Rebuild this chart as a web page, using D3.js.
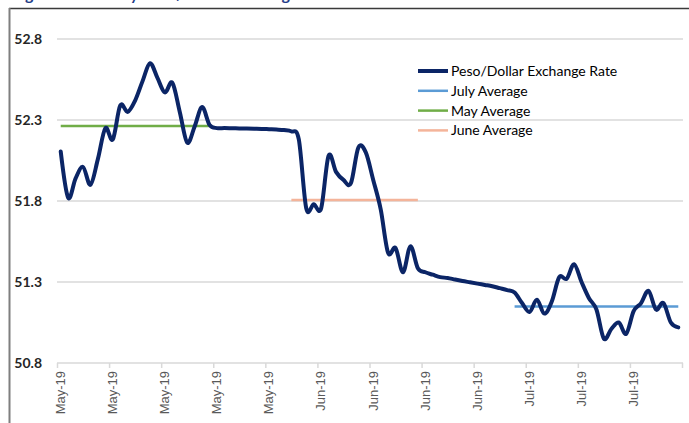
<!DOCTYPE html>
<html>
<head>
<meta charset="utf-8">
<script src="https://cdn.jsdelivr.net/npm/d3@7"></script>
<style>
  html, body { margin: 0; padding: 0; background: #fff; }
  svg { display: block; }
</style>
</head>
<body>
<div id="chart"></div>
<script>
// Daily peso/dollar observations, May to July 2019 (one value per slot on the axis)
const rateValues = [
  52.105, 51.82, 51.94, 52.01, 51.90, 52.06, 52.25, 52.18, 52.39, 52.35,
  52.42, 52.54, 52.65, 52.56, 52.47, 52.53, 52.35, 52.16, 52.26, 52.38,
  52.27, 52.25, 52.25, 52.249, 52.248, 52.247, 52.246, 52.245, 52.243, 52.241,
  52.238, 52.23, 52.18, 51.755, 51.78, 51.755, 52.08, 51.98, 51.93, 51.91,
  52.13, 52.10, 51.93, 51.75, 51.48, 51.51, 51.36, 51.52, 51.385, 51.36,
  51.345, 51.33, 51.325, 51.315, 51.306, 51.298, 51.29, 51.282, 51.274, 51.262,
  51.25, 51.235, 51.17, 51.115, 51.19, 51.105, 51.18, 51.33, 51.32, 51.41,
  51.30, 51.20, 51.13, 50.95, 51.01, 51.05, 50.98, 51.12, 51.17, 51.245,
  51.13, 51.17, 51.05, 51.02
];

// Monthly averages and the first/last observation each one spans
const avgNames  = ["July Average", "May Average", "June Average"];
const avgValues = [51.148, 52.263, 51.806];
const avgFirst  = [61, 0, 31];
const avgLast   = [83, 20, 48];
const avgColors = ["#5b9bd5", "#70ad47", "#f4b49a"];

// Axis ticks
const xTickLabels = ["May-19", "May-19", "May-19", "May-19", "May-19",
                     "Jun-19", "Jun-19", "Jun-19", "Jun-19",
                     "Jul-19", "Jul-19", "Jul-19"];
const xTickStep = 7;
const yTicks = [50.8, 51.3, 51.8, 52.3, 52.8];

const W = 689, H = 423;
const plot = { left: 57, right: 682, top: 39, bottom: 363 };
const rateColor = "#0b2566";

const svg = d3.select("#chart").append("svg")
  .attr("width", W).attr("height", H)
  .attr("viewBox", `0 0 ${W} ${H}`);

// Figure title (sits above the chart frame)
svg.append("text")
  .attr("x", 12).attr("y", 0)
  .attr("font-family", "Lato, 'Open Sans', sans-serif")
  .attr("font-weight", "bold")
  .attr("font-size", 16)
  .attr("fill", "#1f3c88")
  .text("Figure 1: Monthly Peso/Dollar Exchange Rates");

// Chart frame
svg.append("line").attr("x1", 9).attr("x2", W).attr("y1", 8.5).attr("y2", 8.5)
  .attr("stroke", "#3a3a3a").attr("stroke-width", 1.5);
svg.append("line").attr("x1", 9.5).attr("x2", 9.5).attr("y1", 8).attr("y2", H)
  .attr("stroke", "#7f7f7f").attr("stroke-width", 2);

const nSlots = rateValues.length;
const x = d3.scaleLinear().domain([0, nSlots]).range([plot.left, plot.right]);
const y = d3.scaleLinear().domain([50.8, 52.8]).range([plot.bottom, plot.top]);
const slotCentre = i => x(i + 0.5);

// Horizontal gridlines
svg.append("g")
  .selectAll("line")
  .data(yTicks.filter(v => v > 50.8))
  .join("line")
  .attr("x1", plot.left).attr("x2", plot.right + 1)
  .attr("y1", d => y(d)).attr("y2", d => y(d))
  .attr("stroke", "#d9d9d9").attr("stroke-width", 1.5);

// Y axis labels
svg.append("g")
  .selectAll("text")
  .data(yTicks)
  .join("text")
  .attr("x", 42).attr("y", d => y(d))
  .attr("dy", "0.35em")
  .attr("text-anchor", "end")
  .attr("font-family", "Lato, 'Open Sans', sans-serif")
  .attr("font-weight", "bold")
  .attr("font-size", 14)
  .attr("fill", "#262626")
  .text(d => d.toFixed(1));

// X axis built with d3.axisBottom
const xTickVals = d3.range(0, nSlots + 1, xTickStep);
const xAxis = d3.axisBottom(x)
  .tickValues(xTickVals)
  .tickSize(5)
  .tickFormat((d, i) => xTickLabels[i] || "");
const gx = svg.append("g")
  .attr("transform", `translate(0,${plot.bottom})`)
  .call(xAxis);
gx.select(".domain").attr("stroke", "#d9d9d9").attr("stroke-width", 1.5)
  .attr("d", `M${plot.left},0H${plot.right + 1}`);
gx.selectAll(".tick line").attr("stroke", "#d9d9d9").attr("stroke-width", 1.5);
gx.selectAll(".tick text")
  .attr("font-family", "'Liberation Sans', Arial, sans-serif")
  .attr("font-size", 13)
  .attr("fill", "#595959")
  .attr("text-anchor", "end")
  .attr("transform", "rotate(-90)")
  .attr("x", -8).attr("y", 3).attr("dy", "0.35em");

// Monthly average segments, from the first to the last observation of each month
const avgIdx = d3.range(avgNames.length);
svg.append("g")
  .selectAll("line")
  .data(avgIdx)
  .join("line")
  .attr("x1", i => slotCentre(avgFirst[i]))
  .attr("x2", i => slotCentre(avgLast[i]))
  .attr("y1", i => y(avgValues[i])).attr("y2", i => y(avgValues[i]))
  .attr("stroke", i => avgColors[i]).attr("stroke-width", 2.5);

// Exchange-rate line, smoothed through each observation at its slot centre
const line = d3.line()
  .x((d, i) => slotCentre(i))
  .y(d => y(d))
  .curve(d3.curveCardinal.tension(0));
svg.append("path")
  .datum(rateValues)
  .attr("d", line)
  .attr("fill", "none")
  .attr("stroke", rateColor)
  .attr("stroke-width", 4)
  .attr("stroke-linejoin", "round")
  .attr("stroke-linecap", "round");

// Legend
const legendNames = ["Peso/Dollar Exchange Rate"].concat(avgNames);
const legendColors = [rateColor].concat(avgColors);
const legendWidths = [4, 2.5, 2.5, 2.5];
const lg = svg.append("g").attr("transform", "translate(418,71)");
const rows = lg.selectAll("g")
  .data(legendNames)
  .join("g")
  .attr("transform", (d, i) => `translate(0,${i * 19.8})`);
rows.append("line")
  .attr("x1", 0).attr("x2", 30).attr("y1", 0).attr("y2", 0)
  .attr("stroke", (d, i) => legendColors[i])
  .attr("stroke-width", (d, i) => legendWidths[i]);
rows.append("text")
  .attr("x", 33).attr("y", 0).attr("dy", "0.35em")
  .attr("font-family", "Lato, 'Open Sans', sans-serif")
  .attr("font-size", 14)
  .attr("fill", "#000")
  .text(d => d);
</script>
</body>
</html>
